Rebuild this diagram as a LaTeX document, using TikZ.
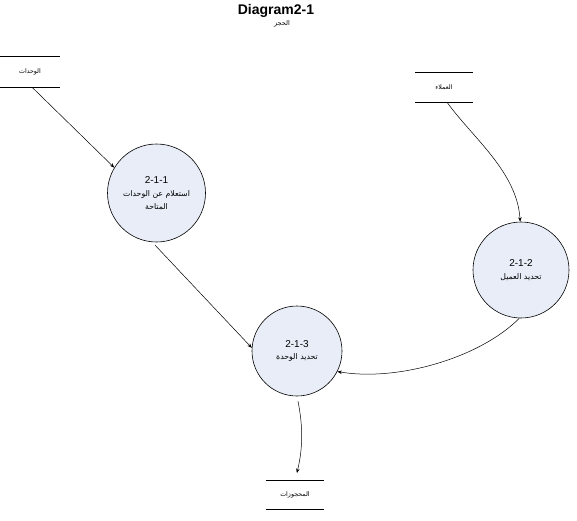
\documentclass[tikz,border=0pt]{standalone}
\usepackage{fontspec}
\setmainfont{Liberation Sans}
\newfontfamily\arabicfont[Script=Arabic]{DejaVu Sans}
\TeXXeTstate=1
\newcommand\artext[1]{{\arabicfont\beginR #1\endR}}
\newcommand\arsmall[1]{{\fontsize{7.8}{13}\arabicfont\selectfont\beginR #1\endR}}
\usetikzlibrary{arrows.meta}
\definecolor{bubble}{RGB}{232,237,247}
\begin{document}
\begin{tikzpicture}[x=1pt,y=-1pt,
  proc/.style={circle,draw,line width=0.6pt,fill=bubble,align=center,inner sep=0pt,
    font=\fontsize{10}{12.8}\selectfont},
  store/.style={inner sep=0pt,font=\fontsize{6.3}{8}\selectfont},
  storelines/.style={line width=0.8pt},
  flow/.style={-{Stealth[length=4.5pt,width=3.5pt]},line width=0.5pt}]
\useasboundingbox (0,0) rectangle (577,520);

% title
\node[font=\fontsize{14}{16}\bfseries] (title) at (276,11) {Diagram2-1};
\node[font=\fontsize{6.5}{8}\selectfont] (subtitle) at (282,24) {\artext{الحجز}};

% data stores
\node[store,minimum width=60pt,minimum height=30pt] (units) at (30,72) {\artext{الوحدات}};
\draw[storelines] (units.north west) -- (units.north east) (units.south west) -- (units.south east);

\node[store,minimum width=58pt,minimum height=29pt] (clients) at (444,87.5) {\artext{العملاء}};
\draw[storelines] (clients.north west) -- (clients.north east) (clients.south west) -- (clients.south east);

\node[store,minimum width=58pt,minimum height=28pt] (bookings) at (295,495) {\artext{المحجوزات}};
\draw[storelines] (bookings.north west) -- (bookings.north east) (bookings.south west) -- (bookings.south east);

% processes
\node[proc,minimum size=98pt] (c1) at (156.5,193) {2-1-1\\\arsmall{استعلام عن الوحدات}\\\arsmall{المتاحة}};
\node[proc,minimum size=96pt] (c2) at (521,270) {2-1-2\\\arsmall{تحديد العميل}};
\node[proc,minimum size=90pt] (c3) at (297,351) {2-1-3\\\arsmall{تحديد الوحدة}};

% flows
\draw[flow] ([xshift=2pt]units.south) -- (c1.149);
\draw[flow] ([xshift=3pt]clients.south) .. controls +(25,35) and +(-3,-50) .. (c2.91);
\draw[flow,shorten <=4pt] (c1.265) -- (c3.176);
\draw[flow] (c2.268) .. controls +(-40,40) and +(60,10) .. (c3.333);
\draw[flow,shorten <=5pt,shorten >=8pt] (c3.south) .. controls +(6,30) and +(8,-33) .. (bookings.north);
\end{tikzpicture}
\end{document}
